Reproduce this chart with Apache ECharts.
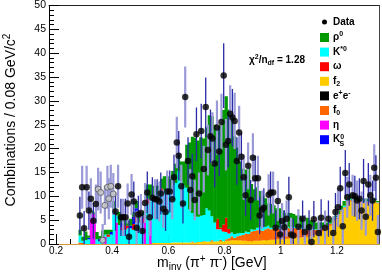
<!DOCTYPE html>
<html><head><meta charset="utf-8">
<script src="https://cdn.jsdelivr.net/npm/echarts@6/dist/echarts.min.js"></script>
<style>html,body{margin:0;padding:0;background:#fff}#c{width:382px;height:275px}</style>
</head><body><div id="c"></div>
<script>
// ---- histogram binning ----
const binStart = 0.28, binWidth = 0.01;
// ---- stacked MC components (per bin) ----
const f2 = [0,0,0,0,0,0,0,0,0,0, 0,0,0,0,0,0,0,0,0,0, 0,0,0,0,0,0,0.2,0.2,0.2,0.2,
  0.2,0.2,0.2,0.3,0.3,0.3,0.3,0.3,0.3,0.3, 0.3,0.3,0.4,0.4,0.4,0.5,0.5,0.5,0.5,0.6,
  0.6,0.6,0.7,0.7,0.8,0.8,0.8,0.8,0.7,0.7, 0.6,0.6,0.7,0.7,0.7,0.8,0.8,0.8,0.9,0.9,
  1,1,1,1.1,1.1,1.2,1.2,1.3,1.3,1.4, 1.4,1.5,1.6,1.8,2,2.2,2.6,3,3.3,3.8,
  4.5,5.2,6,6.8,7.5,8.8,9,8.8,8.8,8.5, 8.6,8.5,8.7,8.6,8.3,8.8,8.5];
const f0 = [0.3,0.2,0,0,0,0,0,0,0,0, 0,0,0,0,0,0,0,0,0,0, 0,0,0,0,0,0,0,0,0,0,
  0,0,0,0,0,0,0,0,0,0, 0.2,0,0,0,0.2,0,0,0.3,0,0,
  0.3,0,0.3,0.5,0.8,0.5,0.8,1,1.2,1.5, 1.5,2,2,2.2,2.3,2,2.3,2.5,2.2,2.4,
  2.5,2.2,2.4,2.2,2.3,2,2.2,2,2,1.8, 1.6,1.5,1.3,1.2,1,0.8,0.7,0.6,0.5,0.4,
  0.3,0.3,0.2,0.2,0.2,0.2,0.2,0.2,0.2,0.2, 0.2,0.2,0.2,0.2,0.2,0.2,0.2];
const eta = [0,0,0,0,6.5,6.3,0,0,0,1.5, 0,0,0,4.5,0,0,0,0,0,0, 0,0,0,6,0,5,0,0,0,0,
  0,0,0,0,0,0,0,0,0,0, 0,0,0,0,0,0,0,0,0,0, 0,0,0,0,0,0,0,0,0,0, 0,0,0,0,0,0,0,0,0,0,
  0,0,0,0,0,0,0,0,0,0, 0,0,0,0,0,0,0,0,0,0, 0,0,0,0,0,0,0,0,0,0, 0,0,0,0,0,0,0];
const kstar = [1.5,0.5,0.8,1,0,0,1,0.6,1,0.5, 1.5,2,6.5,1.5,4,2.9,3,3.3,3.3,3,
  4.5,4.5,4.4,0.5,8.5,5,9,10,10.5,11, 11,11.5,11.5,12,12.5,15,13,12,11.5,7,
  6,5.5,5.3,5.5,5.5,7,6.5,5,4,2.5, 2.2,2,1.5,1,0.8,0.8,0.6,0.5,0.4,0.4,
  0.4,0.5,0.3,0.5,0.6,0.8,0.5,0.5,0.3,0.3, 0.3,0.2,0.2,0.2,0.2,0.2,0.2,0.2,0.2,0.2,
  0.2,0.2,0.1,0.1,0.1,0.1,0.1,0.1,0.1,0.1, 0.1,0.1,0.1,0.1,0.3,0.4,0.2,0.1,0.1,0.1,
  0.1,0.1,0.1,0.1,0.1,0.1,0.1];
const omega = [0,0,0,0,0,0,0,0,0,0, 0.5,0,0,0,0,0.6,1,0.5,0,1.2, 2,0,1,0,1,0,1,0,0,0.5,
  0,0,0,0,0,0,0,0,0,0, 0,0,0,0,0,0,0,0,0,2.2, 0.3,1.5,3,1,0,0,0,0,0,0,
  0,0,0,0,0,0,0,0,0,0, 0,0,0,0,0,0,0,0,0,0, 0,0,0,0,0,0,0,0,0,0, 0,0,0,0,0,0,0,0,0,0,
  0,0,0,0,0,0,0];
const ks = [0,0,0,0.3,0,0,0,0.5,0,0, 0,0.5,0,0,0,1,0,0,0.5,1.5, 1,0,0,0,0,0,0,0,0,0,
  0,0,0,0,0,0,0,0,0,0, 0,0,0,0,0,0,0,0,0,0, 0,0,0,0,0,0,0,0,0,0, 0,0,0,0,0,0,0,0,0,0,
  0,0,0,0,0,0,0,0,0,0, 0,0,0,0,0,0,0,0,0,0, 0,0,0,0,0,0,0,0,0,0, 0,0,0,0,0,0,0];
const rho = [1.2,0.8,1.8,0.5,0.5,0.3,1.5,0.6,1.8,1, 1,0.5,2.5,0.5,2.7,1.3,1,1.2,1.5,1,
  1.5,1.5,1.2,0.5,3,2.5,2,2,1.5,2, 3,2.5,2,3,4,3.5,4,5,9,14,
  16,16.5,16,16.5,16,17,20,21,20.5,19.5, 21.5,24,25.5,25,24.5,20.5,18,15,13.5,13,
  13.5,9.5,8.5,8.5,7.5,6.5,6,4.7,5,4.5, 3.7,4.1,3.4,3,2.9,3.1,2.7,2.5,2.5,2.1,
  1.8,2.3,2,1.9,1.4,1.4,1.1,0.8,0.6,0.7, 0.6,0.4,0.7,0.9,1,1.1,1.1,0.9,0.9,0.7,
  0.6,0.7,0.5,0.6,0.4,0.4,0.2];
// ---- data points ----
const dataX = [0.285,0.293,0.300,0.309,0.317,0.324,0.333,0.342,
  0.412,0.421,0.431,0.439,0.447,0.455,0.460,0.469,0.477,0.487,
  0.493,0.502,0.508,0.517,0.525,0.533,0.543,0.552,0.560,0.568,
  0.573,0.582,0.590,0.596,0.605,0.614,0.620,0.630,0.637,0.646,0.652,
  0.660,0.670,0.678,0.685,0.694,0.700,0.709,0.717,0.726,0.733,
  0.741,0.750,0.757,0.765,0.773,0.781,0.789,0.797,0.805,0.813,
  0.820,0.828,0.836,0.844,0.852,0.860,0.868,0.875,0.884,0.893,
  0.901,0.909,0.919,0.925,0.933,0.940,0.957,0.964,0.973,0.982,
  0.990,0.998,1.005,1.013,1.021,1.029,1.037,1.045,1.063,1.078,
  1.086,1.101,1.110,1.118,1.135,1.144,1.158,1.170,1.187,1.195,
  1.204,1.212,1.221,1.230,1.237,1.244,1.256,1.264,1.272,1.280,
  1.288,1.295,1.303,1.312,1.319,1.327,1.333,1.339,1.346];
const dataY = [6.0,11.9,3.3,11.9,7.0,9.5,4.9,8.4,
  6.8,12.1,5.6,5.6,5.6,8.5,1.5,10.4,8.9,3.4,
  6.2,6.5,2.7,8.6,10.8,5.6,9.7,9.4,9.4,8.9,
  10.6,7.4,6.7,11,11,9.4,14,21.3,18.5,12.1,8.5,
  30.8,17.4,11.3,14.2,9.2,23,10.6,23.7,15.7,28.7,
  19.7,22.6,22.1,16.9,24.4,19.4,25.6,35.3,20.8,21.6,
  27.3,26.5,25.8,17.4,23.4,18.3,14,10.2,16.4,9.2,
  18.1,13.8,13.8,6,7.2,7.6,10.3,10.8,10.8,3.4,
  9,2,4.8,3.5,5.3,9.8,2,1.8,3.6,5.3,
  2.5,3.5,0.4,5.2,2.3,5.5,3.4,5.3,2.3,6.7,
  7.7,11.7,3.7,14.9,9.8,12.5,10.2,10,9.1,9.5,
  7,13.2,5.7,12.5,10.2,9.1,16,13.9,2.5];
const dataErr = [3.9,4.5,3.6,4.5,4.0,4.3,3.8,4.1,
  4.0,4.5,3.9,3.9,3.9,4.2,3.5,4.3,4.2,3.6,
  3.9,4.0,3.6,4.2,4.4,3.9,4.3,4.2,4.2,4.2,
  4.4,4.0,4.0,4.4,4.4,4.2,4.7,5.4,5.2,4.5,4.2,
  6.4,5.0,4.4,4.7,4.2,5.6,4.4,5.7,4.9,6.2,
  5.3,5.6,5.5,5.0,5.7,5.2,5.9,6.8,5.4,5.5,
  6.0,6.0,5.9,5.0,5.6,5.1,4.7,4.3,4.9,4.2,
  5.1,4.7,4.7,3.9,4.0,4.1,4.3,4.4,4.4,3.6,
  4.2,3.5,3.8,3.6,3.8,4.3,3.5,3.5,3.7,3.8,
  3.6,3.6,3.3,3.8,3.5,3.9,3.6,3.8,3.5,4.0,
  4.1,4.5,3.7,4.8,4.3,4.5,4.3,4.3,4.2,4.3,
  4.0,4.6,3.9,4.5,4.3,4.2,4.9,4.7,3.6];
const openX = [0.350,0.359,0.366,0.374,0.383,0.388,0.395,0.404];
const openY = [11.5,10.8,0.8,8.1,11.9,9.5,12.1,10.5];
const openErr = [4.5,4.4,3.4,4.1,4.5,4.3,4.5,4.4];
// ---- axis ticks ----
const xMajorTicks = [0.2,0.4,0.6,0.8,1.0,1.2];
const xMinorTicks = [0.2,0.25,0.3,0.35,0.4,0.45,0.5,0.55,0.6,0.65,0.7,0.75,0.8,0.85,0.9,0.95,1.0,1.05,1.1,1.15,1.2,1.25,1.3];
// ---- legend ----
const legendItems = [
  {label:'ρ{sup|0}', color:'#009900'},
  {label:'K{sup|*0}', color:'#00ffff'},
  {label:'ω', color:'#ff0000'},
  {label:'f{sub|2}', color:'#ffcc00'},
  {label:'e{sup|+}e{sup|-}', color:'#000000'},
  {label:'f{sub|0}', color:'#ff6600'},
  {label:'η', color:'#ff00ff'},
  {label:'K{sup|0}', color:'#0000ff'}
];

const FONT = "'Liberation Sans', Arial, Helvetica, sans-serif";
const N = rho.length;
const comps = [
  {vals:f2, color:'#ffcc00'},
  {vals:f0, color:'#ff6600'},
  {vals:eta, color:'#ff00ff'},
  {vals:kstar, color:'#00ffff'},
  {vals:omega, color:'#ff0000'},
  {vals:ks, color:'#0000ff'},
  {vals:rho, color:'#009900'}
];
function rectItem(color){
  return function(params, api){
    const a = api.coord([api.value(0), api.value(3)]);
    const b = api.coord([api.value(1), api.value(2)]);
    return {type:'rect', shape:{x:a[0], y:a[1], width:b[0]-a[0]+0.5, height:b[1]-a[1]}, style:{fill:color}};
  };
}
const base = new Array(N).fill(0);
const series = [];
comps.forEach(c => {
  const d = [];
  for (let i = 0; i < N; i++) {
    const v = c.vals[i];
    if (v > 0) { const x0 = binStart + i*binWidth; d.push([x0, x0+binWidth, base[i], base[i]+v]); base[i] += v; }
  }
  series.push({type:'custom', data:d, renderItem:rectItem(c.color), clip:true, z:1, silent:true, encode:{x:[0,1], y:[2,3]}});
});
function errItem(color, w){
  return function(params, api){
    const a = api.coord([api.value(0), api.value(1)]);
    const b = api.coord([api.value(0), api.value(2)]);
    return {type:'line', shape:{x1:a[0], y1:a[1], x2:b[0], y2:b[1]}, style:{stroke:color, lineWidth:w}};
  };
}
const lightErr = [], darkErr = [];
dataX.forEach((x,i) => { (i % 2 ? lightErr : darkErr).push([x, Math.max(0, dataY[i]-dataErr[i]), dataY[i]+dataErr[i]]); });
openX.forEach((x,i) => { lightErr.push([x, Math.max(0, openY[i]-openErr[i]), openY[i]+openErr[i]]); });
series.push({type:'custom', data:lightErr, renderItem:errItem('#9a9ad8', 2.2), clip:true, z:2, silent:true, encode:{x:0, y:[1,2]}});
series.push({type:'custom', data:darkErr, renderItem:errItem('#2a2aa8', 1.3), clip:true, z:3, silent:true, encode:{x:0, y:[1,2]}});
series.push({type:'scatter', data:openX.map((x,i)=>[x, openY[i]]), symbol:'circle', symbolSize:6,
  itemStyle:{color:'#c8c8c8', borderColor:'#555', borderWidth:1}, z:4, silent:true});
series.push({type:'scatter', data:dataX.map((x,i)=>[x, dataY[i]]), symbol:'circle', symbolSize:6.5,
  itemStyle:{color:'#000'}, z:5, silent:true});

const rich = {
  sup:{fontSize:7, lineHeight:8, verticalAlign:'top', fontFamily:FONT, fontWeight:'bold', fill:'#000'},
  sub:{fontSize:7, lineHeight:8, verticalAlign:'bottom', fontFamily:FONT, fontWeight:'bold', fill:'#000'}
};
const richBig = {
  sup:{fontSize:10, lineHeight:10, verticalAlign:'top', fontFamily:FONT, fill:'#000'},
  sub:{fontSize:10, lineHeight:10, verticalAlign:'bottom', fontFamily:FONT, fill:'#000'}
};
const graphic = [];
// legend: data
graphic.push({type:'circle', shape:{cx:324.5, cy:22, r:2.5}, style:{fill:'#000'}, z:10});
graphic.push({type:'text', x:333, y:22, style:{text:'Data', font:'bold 10px '+FONT, fill:'#000', textVerticalAlign:'middle', lineHeight:13}, z:10});
legendItems.forEach((it, k) => {
  const cy = 37.5 + k*14.6;
  graphic.push({type:'rect', shape:{x:320, y:cy-4.5, width:9, height:9}, style:{fill:it.color}, z:10});
  graphic.push({type:'text', x:333, y:cy, style:{text:it.label, font:'bold 10px '+FONT, fill:'#000', textVerticalAlign:'middle', lineHeight:13, rich:rich}, z:10});
});
// K0S subscript S
graphic.push({type:'text', x:339.5, y:37.5 + 7*14.6 + 4, style:{text:'S', font:'bold 7px '+FONT, fill:'#000', textVerticalAlign:'middle'}, z:10});
// chi2 text
graphic.push({type:'text', x:249, y:60, style:{text:'χ{sup|2}/n{sub|df} = 1.28', font:'bold 10px '+FONT, fill:'#000', textVerticalAlign:'middle', lineHeight:13, rich:rich}, z:10});
// axis titles
graphic.push({type:'text', x:11, y:120, rotation:Math.PI/2, style:{text:'Combinations / 0.08 GeV/c{sup|2}', font:'14px '+FONT, fill:'#000', textAlign:'center', textVerticalAlign:'middle', lineHeight:17, rich:richBig}, z:10});
graphic.push({type:'text', x:157, y:263, style:{text:'m{sub|inv} (π{sup|+} π{sup|-}) [GeV]', font:'14px '+FONT, fill:'#000', textVerticalAlign:'middle', lineHeight:18, rich:richBig}, z:10});

const chart = echarts.init(document.getElementById('c'));
chart.setOption({
  animation:false,
  grid:{left:49, right:3, top:4, bottom:31, containLabel:false},
  xAxis:[
    {type:'value', min:0.175, max:1.35, position:'bottom', splitLine:{show:false},
      axisLine:{onZero:false, lineStyle:{color:'#d49a3c', width:1}},
      axisTick:{inside:true, length:10, customValues:xMajorTicks, lineStyle:{color:'#000'}},
      axisLabel:{customValues:xMajorTicks, margin:2, color:'#000', fontSize:10, fontFamily:FONT, formatter:v=>String(+v.toFixed(2))}},
    {type:'value', min:0.175, max:1.35, position:'bottom', splitLine:{show:false},
      axisLine:{show:false, onZero:false}, axisLabel:{show:false},
      axisTick:{inside:true, length:5, customValues:xMinorTicks, lineStyle:{color:'#000'}}},
    {type:'value', min:0.175, max:1.35, position:'top', splitLine:{show:false},
      axisLine:{show:true, onZero:false, lineStyle:{color:'#222'}}, axisLabel:{show:false}, axisTick:{show:false}}
  ],
  yAxis:[
    {type:'value', min:0, max:50, interval:5, position:'left', splitLine:{show:false},
      axisLine:{show:true, onZero:false, lineStyle:{color:'#000'}},
      axisTick:{show:true, inside:true, length:10, lineStyle:{color:'#000'}},
      minorTick:{show:true, splitNumber:5, length:5, lineStyle:{color:'#000'}},
      axisLabel:{margin:3, color:'#000', fontSize:10.5, fontFamily:FONT}},
    {type:'value', min:0, max:50, position:'right', splitLine:{show:false},
      axisLine:{show:true, onZero:false, lineStyle:{color:'#444'}}, axisLabel:{show:false}, axisTick:{show:false}}
  ],
  series: series,
  graphic: graphic
});
</script>
</body></html>
